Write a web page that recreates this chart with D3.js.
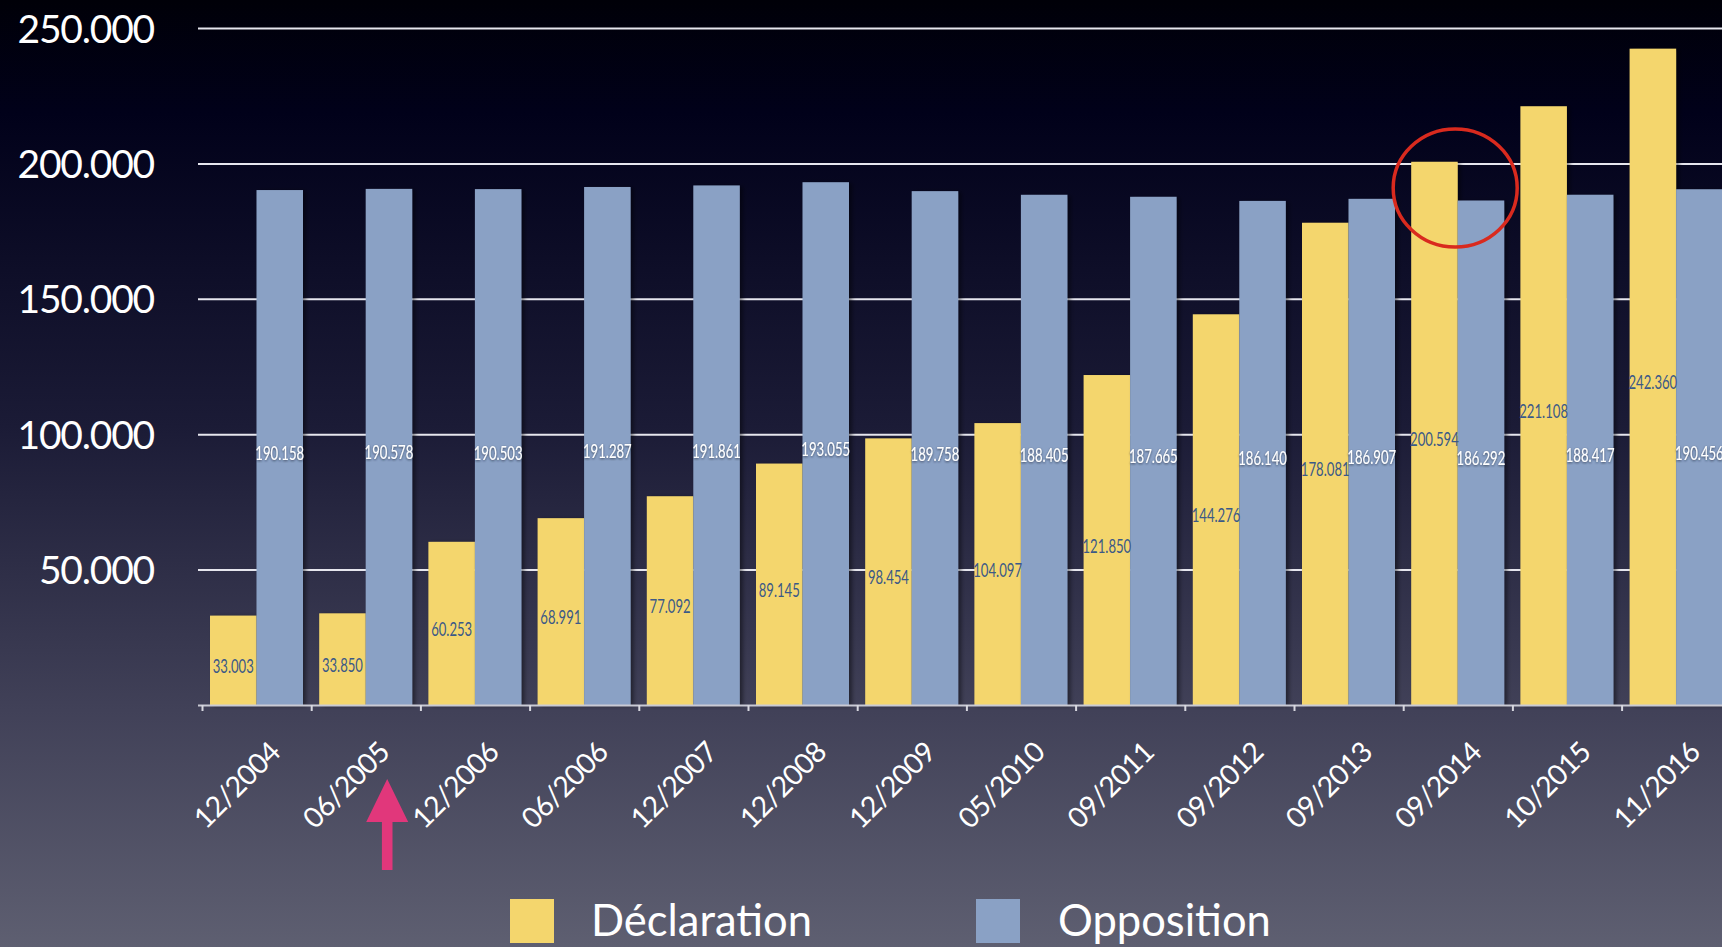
<!DOCTYPE html>
<html><head><meta charset="utf-8">
<script src="https://cdn.jsdelivr.net/npm/d3@7"></script>
<style>html,body{margin:0;padding:0;background:#000;overflow:hidden}svg{display:block}</style>
</head><body>
<svg id="chart" width="1722" height="947"></svg>
<script>
const categories = ["12/2004","06/2005","12/2006","06/2006","12/2007","12/2008","12/2009","05/2010","09/2011","09/2012","09/2013","09/2014","10/2015","11/2016"];
const declaration = [33003,33850,60253,68991,77092,89145,98454,104097,121850,144276,178081,200594,221108,242360];
const opposition = [190158,190578,190503,191287,191861,193055,189758,188405,187665,186140,186907,186292,188417,190456];
const seriesNames = ["Déclaration","Opposition"];
const yTicks = [50000,100000,150000,200000,250000];
const highlightCategory = "09/2014";
const arrowCategory = "06/2005";

const W = 1722, H = 947;
const FONT = "Lato, 'Open Sans', sans-serif";
const colors = {"Déclaration":"#f4d66d","Opposition":"#8aa1c5"};
const svg = d3.select("#chart");
const defs = svg.append("defs");

const grad = defs.append("linearGradient").attr("id","bg").attr("x1",0).attr("y1",0).attr("x2",0).attr("y2",1);
[[0,"#000008"],[0.12,"#01011a"],[0.45,"#1b1b36"],[0.75,"#414158"],[1,"#5e5f71"]].forEach(([o,c])=>grad.append("stop").attr("offset",o).attr("stop-color",c));
svg.append("rect").attr("width",W).attr("height",H).attr("fill","url(#bg)");

const sh = defs.append("filter").attr("id","shadow").attr("x","-20%").attr("y","-5%").attr("width","140%").attr("height","110%");
sh.append("feDropShadow").attr("dx",3).attr("dy",1).attr("stdDeviation",2).attr("flood-color","#000").attr("flood-opacity",0.45);
const tsh = defs.append("filter").attr("id","tshadow").attr("x","-10%").attr("y","-30%").attr("width","120%").attr("height","160%");
tsh.append("feDropShadow").attr("dx",0).attr("dy",1).attr("stdDeviation",1.2).attr("flood-color","#1a2030").attr("flood-opacity",0.7);

const locale = d3.formatLocale({decimal:",",thousands:".",grouping:[3],currency:["","€"]});
const fmt = locale.format(",d");

const y = d3.scaleLinear().domain([0,250000]).range([705,28]);
const x0 = d3.scaleBand().domain(categories).range([202.5, 202.5+14*109.2]).paddingInner(0).paddingOuter(0);
const x1 = d3.scaleBand().domain(seriesNames).range([7.5, 100.5]).padding(0);

// gridlines + y labels
const yAxis = svg.append("g").attr("transform","translate(198,0)")
  .call(d3.axisLeft(y).tickValues(yTicks).tickFormat(fmt).tickSize(-(W-198)).tickPadding(44));
yAxis.select(".domain").remove();
yAxis.selectAll(".tick line").attr("stroke","#e6e6ee").attr("stroke-width",2);
yAxis.selectAll(".tick text").attr("fill","#ffffff").attr("font-family",FONT).attr("font-size",39)
  .attr("letter-spacing","-1.2px").attr("dy","0.36em");

// bars
const rows = categories.map((c,i)=>({cat:c, values:[{s:"Déclaration",v:declaration[i]},{s:"Opposition",v:opposition[i]}]}));
const groups = svg.append("g").selectAll("g").data(rows).join("g")
  .attr("transform",d=>`translate(${x0(d.cat)},0)`);
groups.selectAll("rect").data(d=>d.values).join("rect")
  .attr("x",d=>x1(d.s)).attr("width",x1.bandwidth())
  .attr("y",d=>y(d.v)).attr("height",d=>y(0)-y(d.v))
  .attr("fill",d=>colors[d.s]).attr("filter","url(#shadow)");

// value labels
groups.selectAll("text").data(d=>d.values).join("text")
  .attr("x",d=>x1(d.s)+x1.bandwidth()/2)
  .attr("y",d=>y(d.v/2)+12.5)
  .attr("text-anchor","middle")
  .attr("font-family",FONT).attr("font-size",19.5)
  .attr("fill",d=>d.s==="Déclaration"?"#3b5987":"#ffffff")
  .attr("filter",d=>d.s==="Opposition"?"url(#tshadow)":null)
  .attr("textLength",d=>{const t=fmt(d.v); return (t.length-1)*7.8+2;})
  .attr("lengthAdjust","spacingAndGlyphs")
  .text(d=>fmt(d.v));

// x axis baseline and ticks
const xAxis = svg.append("g");
xAxis.append("line").attr("x1",198).attr("x2",W).attr("y1",y(0)+0.5).attr("y2",y(0)+0.5)
  .attr("stroke","#c9cad4").attr("stroke-width",2);
xAxis.selectAll("line.tk").data(categories).join("line").attr("class","tk")
  .attr("x1",d=>x0(d)).attr("x2",d=>x0(d)).attr("y1",y(0)).attr("y2",y(0)+6)
  .attr("stroke","#d8d8e0").attr("stroke-width",2);
xAxis.selectAll("text").data(categories).join("text")
  .attr("transform",d=>`translate(${x0(d)+x0.bandwidth()/2+25},754) rotate(-45)`)
  .attr("text-anchor","end")
  .attr("font-family",FONT).attr("font-size",28.5).attr("letter-spacing","-0.6px").attr("fill","#ffffff")
  .text(d=>d);

// annotation: red ellipse
svg.append("ellipse")
  .attr("cx",x0(highlightCategory)+51.5).attr("cy",188)
  .attr("rx",62).attr("ry",59)
  .attr("fill","none").attr("stroke","#d92a1e").attr("stroke-width",3.5);

// annotation: pink arrow
const ax = x0(arrowCategory)+75.5;
svg.append("path")
  .attr("d",`M${ax},779 L${ax+21},822 L${ax+5.3},822 L${ax+5.3},870 L${ax-5.3},870 L${ax-5.3},822 L${ax-21},822 Z`)
  .attr("fill","#e1377b");

// legend
const legend = svg.append("g");
const legendItems = [{s:"Déclaration",sx:510,tx:591},{s:"Opposition",sx:976,tx:1058}];
legendItems.forEach(it=>{
  legend.append("rect").attr("x",it.sx).attr("y",899).attr("width",44).attr("height",44).attr("fill",colors[it.s]);
  legend.append("text").attr("x",it.tx).attr("y",936).attr("font-family",FONT).attr("font-size",43.5)
    .attr("fill","#ffffff").text(it.s);
});
</script>
</body></html>
